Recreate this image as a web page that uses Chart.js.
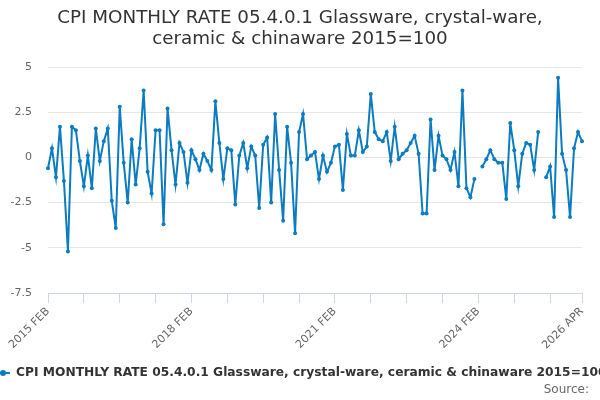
<!DOCTYPE html>
<html>
<head>
<meta charset="utf-8">
<script src="https://cdn.jsdelivr.net/npm/chart.js@4/dist/chart.umd.min.js"></script>
<style>
html,body{margin:0;padding:0;background:#fff;}
#wrap{width:600px;height:400px;position:relative;}
</style>
</head>
<body>
<div id="wrap"><canvas id="c" width="600" height="400"></canvas></div>
<script>
const titleLines = ['CPI MONTHLY RATE 05.4.0.1 Glassware, crystal-ware,', 'ceramic & chinaware 2015=100'];
const seriesName = 'CPI MONTHLY RATE 05.4.0.1 Glassware, crystal-ware, ceramic & chinaware 2015=100';
const sourceText = 'Source:';
const monthNames = ['JAN','FEB','MAR','APR','MAY','JUN','JUL','AUG','SEP','OCT','NOV','DEC'];
const years = [2015,2016,2017,2018,2019,2020,2021,2022,2023,2024,2025,2026];
const yTicks = [5, 2.5, 0, -2.5, -5, -7.5];
const tickLabels = ['2015 FEB','2018 FEB','2021 FEB','2024 FEB','2026 APR'];

const v2015 = [-0.6, 0.5, -1.1, 1.7, -1.3, -5.2, 1.7, 1.5, -0.2, -1.6, 0.1];
const v2016 = [-1.7, 1.6, -0.2, 0.9, 1.6, -2.4, -3.9, 2.8, -0.3, -2.5, 1.0, -1.5];
const v2017 = [0.5, 3.7, -0.8, -2.0, 1.5, 1.5, -3.7, 2.7, 0.4, -1.5, 0.8, 0.3];
const v2018 = [-1.4, 0.4, -0.1, -0.7, 0.2, -0.2, -0.7, 3.1, 0.8, -1.2, 0.5, 0.4];
const v2019 = [-2.6, 0.1, 0.8, -0.6, 0.6, 0.1, -2.8, 0.7, 1.1, -2.5, 2.4, -0.7];
const v2020 = [-3.5, 1.7, -0.3, -4.2, 1.4, 2.4, -0.1, 0.1, 0.3, -1.2, 0.1, -0.8];
const v2021 = [-0.3, 0.6, 0.7, -1.8, 1.3, 0.1, 0.1, 1.5, 0.3, 0.6, 3.5, 1.4];
const v2022 = [1.0, 0.9, 1.4, -0.2, 1.7, -0.1, 0.2, 0.4, 0.8, 1.2, 0.2, -3.1];
const v2023 = [-3.1, 2.1, -0.7, 1.2, 0.1, -0.1, -0.7, 0.3, -1.6, 3.7, -1.7, -2.2];
const v2024 = [-1.2, null, -0.5, -0.1, 0.4, -0.1, -0.3, -0.3, -2.3, 1.9, 0.4, -1.6];
const v2025 = [0.2, 0.8, 0.7, -0.7, 1.4, null, -1.1, -0.5, -3.3, 4.4, 0.2, -0.7];
const v2026 = [-3.3, 0.5, 1.4, 0.9];

const values = [].concat(v2015, v2016, v2017, v2018, v2019, v2020, v2021, v2022, v2023, v2024, v2025, v2026);

// categories: FEB 2015 .. APR 2026
const categories = [];
years.forEach(y => monthNames.forEach((m, i) => {
  const key = y * 12 + i;
  if (key >= 2015 * 12 + 1 && key <= 2026 * 12 + 3) categories.push(y + ' ' + m);
}));

const LINE = '#0c7cc1';
const FONT = '"DejaVu Sans", "Liberation Sans", sans-serif';

const extrasPlugin = {
  id: 'extras',
  afterDraw(chart) {
    const ctx = chart.ctx;
    ctx.save();
    // title
    ctx.font = '18.3px ' + FONT;
    ctx.fillStyle = '#333333';
    ctx.textAlign = 'center';
    ctx.textBaseline = 'middle';
    ctx.fillText(titleLines[0], 300, 18);
    ctx.fillText(titleLines[1], 300, 39);
    // legend symbol
    const ly = 373;
    ctx.strokeStyle = LINE;
    ctx.lineWidth = 2;
    ctx.beginPath();
    ctx.moveTo(-4, ly);
    ctx.lineTo(10, ly);
    ctx.stroke();
    ctx.fillStyle = LINE;
    ctx.beginPath();
    ctx.arc(3, ly, 3, 0, Math.PI * 2);
    ctx.fill();
    // legend text
    ctx.font = 'bold 12.25px ' + FONT;
    ctx.fillStyle = '#333333';
    ctx.textBaseline = 'middle';
    ctx.textAlign = 'left';
    ctx.fillText(seriesName, 16, ly);
    // source
    ctx.font = '12px ' + FONT;
    ctx.fillStyle = '#666666';
    ctx.textAlign = 'right';
    ctx.fillText(sourceText, 589, 390);
    ctx.restore();
  }
};

new Chart(document.getElementById('c'), {
  type: 'line',
  data: {
    labels: categories,
    datasets: [{
      label: seriesName,
      data: values,
      borderColor: LINE,
      backgroundColor: LINE,
      borderWidth: 2,
      pointRadius: 2,
      pointBorderWidth: 0,
      pointBackgroundColor: LINE,
      spanGaps: false,
      tension: 0
    }]
  },
  options: {
    responsive: false,
    animation: false,
    devicePixelRatio: 1,
    layout: { padding: { left: 0, right: 18, top: 67, bottom: 0 } },
    plugins: {
      legend: { display: false },
      tooltip: { enabled: false },
      title: { display: false }
    },
    scales: {
      x: {
        type: 'category',
        offset: false,
        afterBuildTicks(scale) {
          const last = categories.length - 1;
          scale.ticks = scale.ticks.filter(t => t.value % 9 === 0 || t.value === last);
        },
        afterFit(scale) { scale.height = 107; },
        grid: { display: true, drawOnChartArea: false, drawTicks: true, tickLength: 10, color: '#ccd6eb', lineWidth: 1 },
        border: { display: true, color: '#ccd6eb', width: 1 },
        ticks: {
          autoSkip: false,
          maxRotation: 45,
          minRotation: 45,
          padding: 2,
          color: '#666666',
          font: { family: FONT, size: 11 },
          callback(value) {
            const lab = this.getLabelForValue(value);
            return tickLabels.includes(lab) ? lab : '';
          }
        }
      },
      y: {
        min: -7.5,
        max: 5,
        afterBuildTicks(scale) { scale.ticks = yTicks.map(v => ({ value: v })); },
        afterFit(scale) { scale.width = 48; },
        grid: { color: '#e6e6e6', drawTicks: false, lineWidth: 1 },
        border: { display: false },
        ticks: {
          padding: 16,
          color: '#666666',
          font: { family: FONT, size: 11 },
          callback(value) { return String(value); }
        }
      }
    }
  },
  plugins: [extrasPlugin]
});
</script>
</body>
</html>
